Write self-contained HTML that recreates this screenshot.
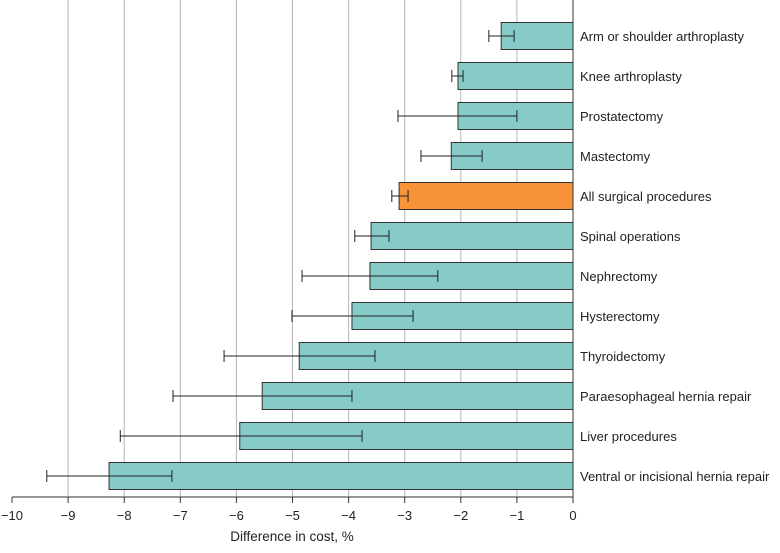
<!DOCTYPE html>
<html><head><meta charset="utf-8"><style>
body{margin:0;background:#fff;}
svg{display:block;font-family:"Liberation Sans",sans-serif;}
</style></head><body>
<svg id="chart" width="780" height="553"></svg>
<script>
const categories=["Arm or shoulder arthroplasty","Knee arthroplasty","Prostatectomy","Mastectomy","All surgical procedures","Spinal operations","Nephrectomy","Hysterectomy","Thyroidectomy","Paraesophageal hernia repair","Liver procedures","Ventral or incisional hernia repair"];
const values=[-1.28,-2.05,-2.05,-2.17,-3.10,-3.60,-3.62,-3.94,-4.88,-5.54,-5.94,-8.27];
const ciLow=[-1.50,-2.16,-3.12,-2.71,-3.23,-3.89,-4.83,-5.01,-6.22,-7.13,-8.07,-9.38];
const ciHigh=[-1.05,-1.96,-1.00,-1.62,-2.94,-3.28,-2.41,-2.85,-3.53,-3.94,-3.76,-7.15];
const ticks=[-10,-9,-8,-7,-6,-5,-4,-3,-2,-1,0];
const highlight="All surgical procedures";

const svg=document.getElementById('chart');
const NS="http://www.w3.org/2000/svg";
const x0=12,x1=573,axisY=497,topY=16,rowH=40;
const xs=v=>x0+(v-(-10))/10*(x1-x0);
const yc=i=>topY+20+i*rowH;
function mk(t,a){const e=document.createElementNS(NS,t);for(const k in a)e.setAttribute(k,a[k]);svg.appendChild(e);return e;}
ticks.forEach(t=>{
  if(t>-10&&t<0){const g=mk('line',{x1:xs(t),x2:xs(t),y1:0,y2:axisY,stroke:'#b5b5b5','stroke-width':1});
  
  }
  const tk=mk('line',{x1:xs(t),x2:xs(t),y1:axisY,y2:axisY+6,stroke:'#333'});
  
  
  const tl=mk('text',{x:xs(t),y:axisY+23,'text-anchor':'middle','font-size':13,fill:'#222'});
  tl.textContent=t<0?'\u2212'+(-t):t;
  
  
});
const ax=mk('line',{x1:x0,x2:x1,y1:axisY,y2:axisY,stroke:'#333'});


const zl=mk('line',{x1:x1,x2:x1,y1:0,y2:axisY,stroke:'#333'});


categories.forEach((c,i)=>{
  const y=yc(i);
  const b=mk('rect',{x:xs(values[i]),y:y-13.5,width:xs(0)-xs(values[i]),height:27,fill:c===highlight?'#F7943A':'#86CBC8',stroke:'#333','stroke-width':1});
  
  
  const e=mk('path',{d:`M${xs(ciLow[i])},${y}H${xs(ciHigh[i])}M${xs(ciLow[i])},${y-6}V${y+6}M${xs(ciHigh[i])},${y-6}V${y+6}`,stroke:'#222','stroke-width':1,fill:'none'});
  
  
  const l=mk('text',{x:580,y:y+5,'font-size':13,fill:'#222'});
  l.textContent=c;
  
  
});
const at=mk('text',{x:292,y:541,'text-anchor':'middle','font-size':13.5,fill:'#222'});
at.textContent='Difference in cost, %';


</script>
</body></html>
